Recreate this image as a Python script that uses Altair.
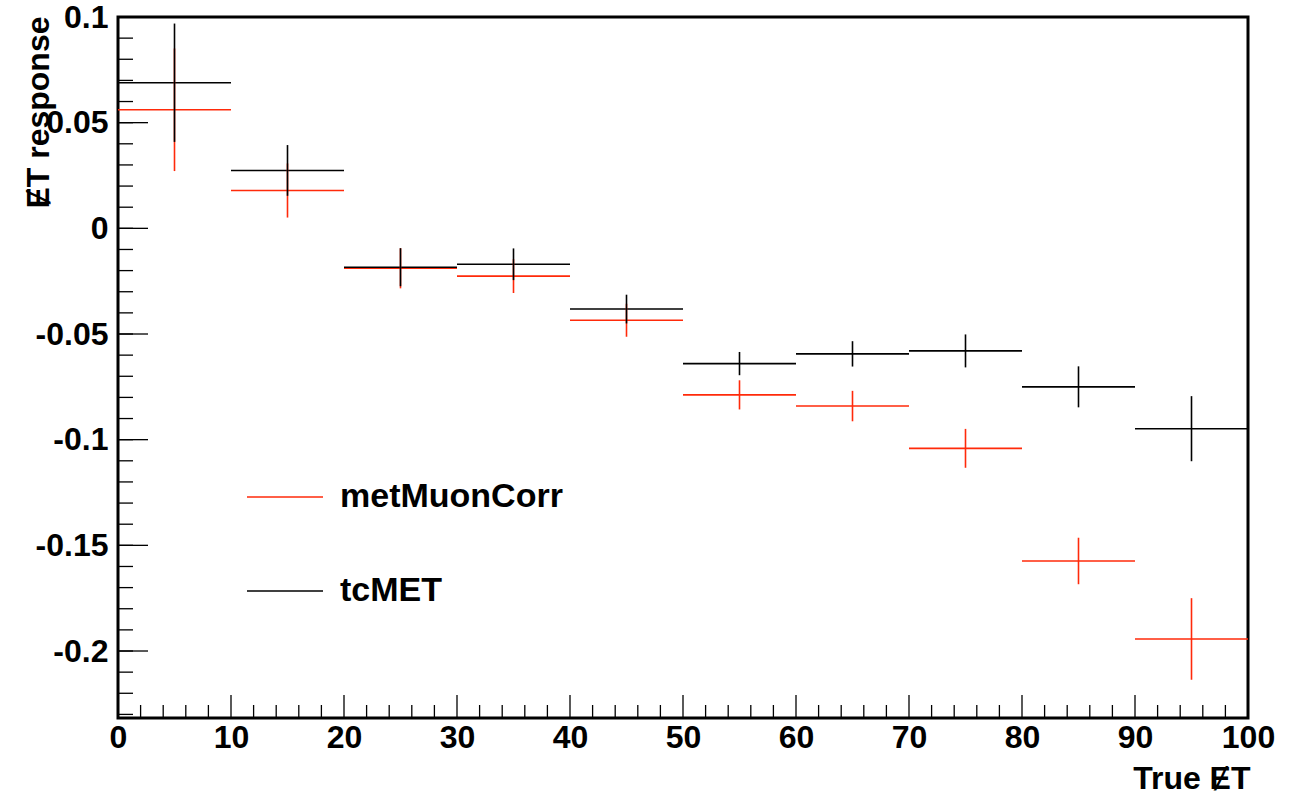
import altair as alt
import pandas as pd

# ---- data ----
bin_lo = [0, 10, 20, 30, 40, 50, 60, 70, 80, 90]
bin_hi = [10, 20, 30, 40, 50, 60, 70, 80, 90, 100]
bin_center = [5, 15, 25, 35, 45, 55, 65, 75, 85, 95]

met_muon_corr = [0.0561, 0.0179, -0.0189, -0.0226, -0.0435, -0.0788, -0.0841, -0.1041, -0.1574, -0.1943]
met_muon_corr_err = [0.029, 0.0128, 0.0095, 0.008, 0.0078, 0.0069, 0.0072, 0.0092, 0.011, 0.0193]

tc_met = [0.0689, 0.0274, -0.0184, -0.0170, -0.0382, -0.0640, -0.0594, -0.0580, -0.0750, -0.0948]
tc_met_err = [0.028, 0.012, 0.009, 0.0075, 0.0068, 0.0055, 0.006, 0.0078, 0.0097, 0.0154]

series_names = ["metMuonCorr", "tcMET"]
series_colors = ["#ff2a0a", "#000000"]

x_major = [0, 10, 20, 30, 40, 50, 60, 70, 80, 90, 100]
x_minor = [v for v in range(0, 101, 2) if v % 10 != 0]
y_major = [-0.2, -0.15, -0.1, -0.05, 0, 0.05, 0.1]
y_minor = [round(-0.23 + 0.01 * i, 2) for i in range(34)]

x_domain = [0, 100]
y_domain = [-0.2317, 0.1]

W, H = 1130, 701
FONT = "Liberation Sans"

rows = []
for name, vals, errs in [("metMuonCorr", met_muon_corr, met_muon_corr_err),
                         ("tcMET", tc_met, tc_met_err)]:
    for lo, hi, c, v, e in zip(bin_lo, bin_hi, bin_center, vals, errs):
        rows.append({"series": name, "lo": lo, "hi": hi, "c": c, "val": v,
                     "ylo": v - e, "yhi": v + e})
df = pd.DataFrame(rows)

xs = alt.Scale(domain=x_domain, nice=False, zero=False)
ys = alt.Scale(domain=y_domain, nice=False, zero=False)
cscale = alt.Scale(domain=series_names, range=series_colors)
legend = alt.Legend(
    title=None, orient="none", legendX=128, legendY=441,
    symbolType="stroke", symbolSize=5776, symbolStrokeWidth=1.5,
    labelFont=FONT, labelFontSize=34, labelFontWeight="bold",
    labelColor="black", labelOffset=16, labelLimit=600, rowPadding=38, padding=0,
    direction="vertical",
)

x_axis = alt.Axis(
    values=x_major, ticks=False, tickSize=0, domain=False, grid=False,
    labelFont=FONT, labelFontSize=32, labelFontWeight="bold", labelColor="black",
    labelPadding=4, labelFlush=False,
    title="True ɆT", titleFont=FONT, titleFontSize=32, titleFontWeight="bold",
    titleColor="black", titleAnchor="end", titleAlign="right", titleX=W + 2,
    titleY=70, titleBaseline="alphabetic",
)
y_axis = alt.Axis(
    values=y_major, ticks=False, tickSize=0, domain=False, grid=False,
    labelExpr="'' + datum.value",
    labelFont=FONT, labelFontSize=32, labelFontWeight="bold", labelColor="black",
    labelPadding=10, labelFlush=False,
    title="ɆT response", titleFont=FONT, titleFontSize=32, titleFontWeight="bold",
    titleColor="black", titleAngle=270, titleAlign="right", titleBaseline="middle",
    titleX=-80, titleY=-1,
)

base = alt.Chart(df)
hbars = base.mark_rule(strokeWidth=1.6).encode(
    x=alt.X("lo:Q", scale=xs, axis=x_axis),
    x2="hi:Q",
    y=alt.Y("val:Q", scale=ys, axis=y_axis),
    color=alt.Color("series:N", scale=cscale, sort=series_names, legend=legend),
)
vbars = base.mark_rule(strokeWidth=1.6).encode(
    x=alt.X("c:Q", scale=xs, axis=x_axis),
    y=alt.Y("ylo:Q", scale=ys, axis=y_axis),
    y2="yhi:Q",
    color=alt.Color("series:N", scale=cscale, sort=series_names, legend=legend),
)

def yticks(vals, length):
    return alt.Chart(pd.DataFrame({"t": vals})).mark_rule(color="black", strokeWidth=1.3).encode(
        y=alt.Y("t:Q", scale=ys, axis=y_axis),
        x=alt.value(0), x2=alt.value(length),
    )

def xticks(vals, length):
    return alt.Chart(pd.DataFrame({"t": vals})).mark_rule(color="black", strokeWidth=1.3).encode(
        x=alt.X("t:Q", scale=xs, axis=x_axis),
        y=alt.value(H), y2=alt.value(H - length),
    )

chart = alt.layer(
    yticks(y_minor, 15), yticks(y_major, 30),
    xticks(x_minor, 13), xticks(x_major, 23),
    hbars, vbars,
).properties(
    width=W, height=H,
    autosize=alt.AutoSizeParams(type="none"),
    padding={"left": 118, "top": 17, "right": 54, "bottom": 78},
).configure(
    background="white",
    view=alt.ViewConfig(stroke="black", strokeWidth=3),
)

chart.save("out.html", embed_options={"renderer": "svg", "actions": False})
